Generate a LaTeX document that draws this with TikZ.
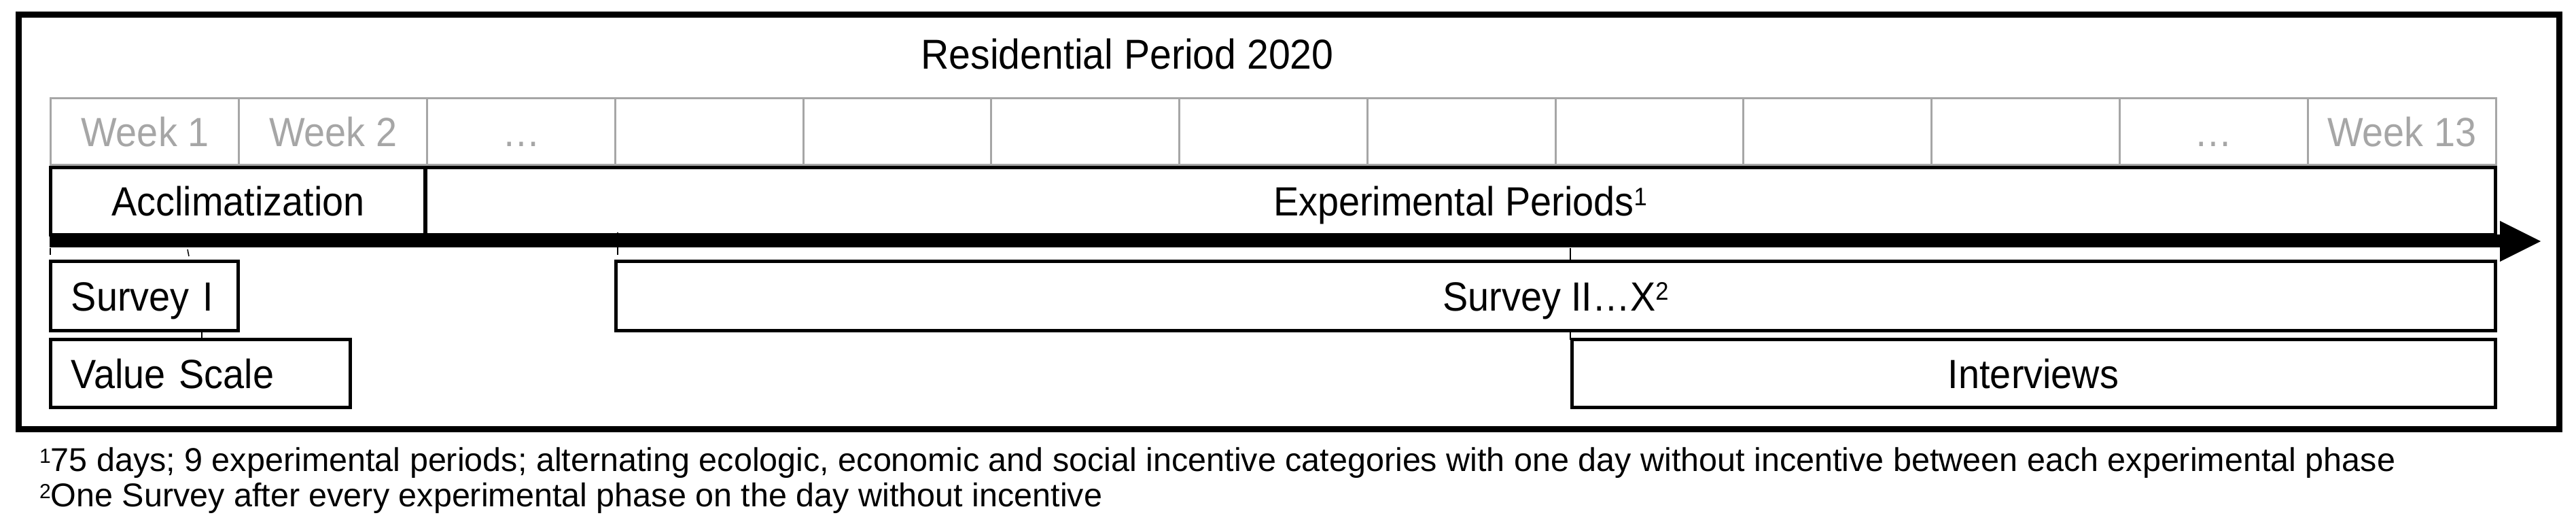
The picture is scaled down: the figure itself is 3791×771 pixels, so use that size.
\documentclass[tikz,border=0pt]{standalone}
\usepackage{fontspec}
\setmainfont{Liberation Sans}[FakeStretch=0.93]
\newfontfamily\footfont{Liberation Sans}
\definecolor{weekgray}{RGB}{166,166,166}
\newcommand{\supnum}[1]{\raisebox{0.26em}{\scalebox{0.62}{#1}}}
\begin{document}
\begin{tikzpicture}[x=0.2pt,y=-0.2pt,
  box/.style={draw=black,line width=1pt,inner sep=0pt,outer sep=0pt,
    text height=8.6pt,text depth=0pt,font=\fontsize{12}{14}\selectfont},
  leftbox/.style={box,inner xsep=6pt,align=left},
  weekcell/.style={draw=weekgray,line width=0.6pt,inner sep=0pt,outer sep=0pt,
    minimum width=55.354pt,minimum height=19.6pt,text=weekgray,
    text height=8.6pt,text depth=0pt,font=\fontsize{12}{14}\selectfont},
  label/.style={inner sep=0pt,text height=8.6pt,text depth=0pt,font=\fontsize{12.3}{14}\selectfont},
  foot/.style={anchor=base west,inner sep=0pt,font=\footfont\fontsize{9.7}{12}\selectfont},
  tick/.style={line width=0.3pt,black}]
\useasboundingbox (0,0) rectangle (3791,771);
% outer frame
\draw[line width=1.8pt] (27,22) rectangle (3766,632);
% title
\node[label] (title) at (1659,80) {Residential Period 2020};
% week row
\foreach \i/\t in {1/Week 1,2/Week 2,3/…,4/,5/,6/,7/,8/,9/,10/,11/,12/…,13/Week 13}
  \node[weekcell] (w\i) at ({75+(\i-0.5)*276.77},194) {\t};
% phase boxes
\node[box,minimum width=110.2pt,minimum height=19.8pt] (accl) at (350.5,296.5) {Acclimatization};
\node[box,minimum width=609.2pt,minimum height=19.8pt] (exper) at (2149,296.5) {Experimental Periods\supnum{1}};
% survey boxes
\node[leftbox,minimum width=55pt,minimum height=20.4pt,text width=43pt] (surv1) at (212.5,436) {Survey I};
\node[box,minimum width=553pt,minimum height=20.4pt] (surv2) at (2289.5,436) {Survey II…X\supnum{2}};
\node[leftbox,minimum width=88pt,minimum height=20pt,text width=76pt] (value) at (295,550) {Value Scale};
\node[box,minimum width=271.8pt,minimum height=20pt] (interv) at (2992.5,550) {Interviews};
% time arrow
\coordinate (as) at (73,355);
\coordinate (ae) at (3680,355);
\coordinate (tip) at (3739,355);
\draw[line width=3.8pt] (as) -- (ae);
\fill (3679,325) -- (tip) -- (3679,385) -- cycle;
% small ticks
\draw[tick] (74,365) -- (74,375);
\draw[tick] (276,367) -- (278,377);
\draw[tick] (909,342) -- (909,375);
\draw[tick] (2311,365) -- (2311,385);
\draw[tick] (2311,488) -- (2311,500);
\draw[tick] (297,488) -- (297,500);
% footnotes
\node[foot] (fn1) at (57,694) {\supnum{1}75 days; 9 experimental periods; alternating ecologic, economic and social incentive categories with one day without incentive between each experimental phase};
\node[foot] (fn2) at (57,746) {\supnum{2}One Survey after every experimental phase on the day without incentive};
\end{tikzpicture}
\end{document}
